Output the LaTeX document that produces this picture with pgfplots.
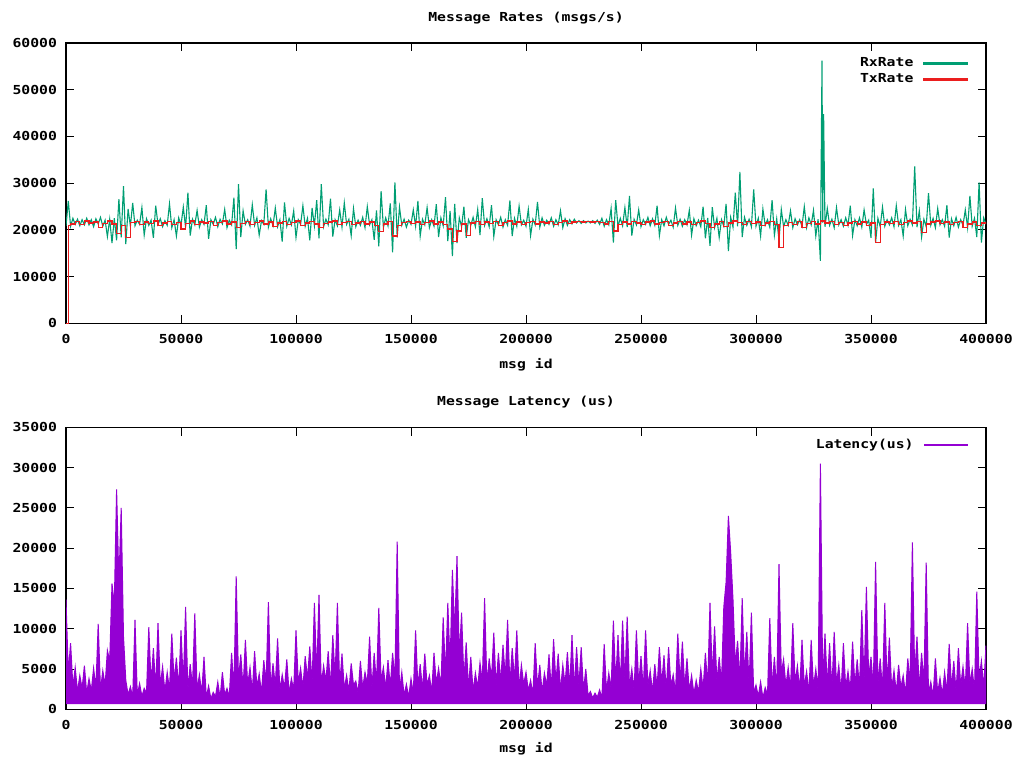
\documentclass[border=0pt]{standalone}
\usepackage{fontspec}
\setmainfont{DejaVu Sans Mono}[FakeStretch=1.19]
\usepackage{pgfplots}
\pgfplotsset{compat=1.18}
\definecolor{gpgreen}{HTML}{009E73}
\definecolor{gpred}{HTML}{EB1E1E}
\definecolor{gppurple}{HTML}{9400D3}
\newcommand\gpfont{\fontsize{6.2}{7}\selectfont\bfseries}
\pgfplotsset{gp/.style={
  scale only axis, width=460pt,
  xmin=0, xmax=400000,
  xtick={0,50000,100000,150000,200000,250000,300000,350000,400000},
  scaled x ticks=false, scaled y ticks=false,
  /pgf/number format/fixed, /pgf/number format/1000 sep={},
  /pgf/number format/assume math mode=true,
  tick align=inside, tick pos=both, major tick length=4.2pt,
  axis line style={line width=0.6pt},
  every tick/.style={black, line width=0.5pt},
  tick label style={font=\gpfont},
  xticklabel style={yshift=-2pt},
  yticklabel style={xshift=-1pt},
  legend style={draw=none, fill=none, at={(1,1)}, anchor=north east,
    xshift=-9pt, font=\gpfont, row sep=-2pt, inner sep=0pt},
  legend cell align=right, legend plot pos=right,
}}
\begin{document}
\begin{tikzpicture}[x=0.5pt,y=0.5pt]
\useasboundingbox (0,0) rectangle (1019,763);
\begin{axis}[gp, at={(33pt,219.75pt)}, anchor=south west, height=140.25pt,
  legend style={yshift=-5pt},
  ymin=0, ymax=60000, ytick={0,10000,20000,30000,40000,50000,60000}]
\addplot[draw=gpgreen, line width=0.55pt,
  legend image code/.code={\path (0pt,0pt); \fill[gpgreen] (3pt,-0.3pt) rectangle (24.5pt,0.3pt);}] coordinates {
(0,20900)(1000,26200)(2000,20800)(3000,22500)(4000,21200)(5000,22300)(6000,20900)(7000,22200)(8000,21100)(9000,22500)
(10000,21100)(11000,22200)(12000,20700)(13000,22400)(14000,21300)(15000,22700)(16000,20800)(17000,22100)(18000,18600)(19000,22300)
(20000,17200)(21000,22500)(22000,17800)(23000,26600)(24000,18400)(25000,29400)(26000,17000)(27000,24500)(28000,20800)(29000,25800)
(30000,20900)(31000,22100)(32000,21200)(33000,24800)(34000,18900)(35000,22400)(36000,21000)(37000,22100)(38000,18300)(39000,25200)
(40000,21200)(41000,22400)(42000,20700)(43000,22000)(44000,21000)(45000,25600)(46000,20500)(47000,22200)(48000,18700)(49000,22600)
(50000,21000)(51000,24900)(52000,20500)(53000,28000)(54000,18800)(55000,22300)(56000,21100)(57000,24200)(58000,20600)(59000,22200)
(60000,21200)(61000,25300)(62000,18100)(63000,22200)(64000,21200)(65000,22700)(66000,20700)(67000,22300)(68000,21300)(69000,24400)
(70000,20500)(71000,22100)(72000,21100)(73000,26900)(74000,15900)(75000,29800)(76000,18500)(77000,24100)(78000,21200)(79000,22200)
(80000,20800)(81000,25400)(82000,21000)(83000,22600)(84000,18900)(85000,22000)(86000,21200)(87000,28700)(88000,20600)(89000,22400)
(90000,20900)(91000,24700)(92000,20700)(93000,22200)(94000,17500)(95000,25900)(96000,20800)(97000,22500)(98000,21100)(99000,24100)
(100000,18400)(101000,22200)(102000,21200)(103000,25200)(104000,20800)(105000,22500)(106000,17800)(107000,24700)(108000,20900)(109000,26400)
(110000,18200)(111000,29800)(112000,20700)(113000,22300)(114000,21100)(115000,26700)(116000,18600)(117000,22200)(118000,20900)(119000,24300)
(120000,20600)(121000,25800)(122000,21200)(123000,22300)(124000,18800)(125000,24600)(126000,20700)(127000,22100)(128000,21000)(129000,22700)
(130000,20500)(131000,25000)(132000,21100)(133000,22200)(134000,17900)(135000,24200)(136000,16500)(137000,28300)(138000,20500)(139000,22600)
(140000,20900)(141000,25700)(142000,15200)(143000,30200)(144000,18400)(145000,24900)(146000,21000)(147000,22300)(148000,20600)(149000,22100)
(150000,21200)(151000,24300)(152000,20800)(153000,26200)(154000,18700)(155000,22300)(156000,21100)(157000,24800)(158000,20500)(159000,22200)
(160000,20800)(161000,25500)(162000,18500)(163000,22600)(164000,20900)(165000,27000)(166000,17600)(167000,24100)(168000,14400)(169000,25600)
(170000,17200)(171000,22600)(172000,20700)(173000,25000)(174000,18300)(175000,22200)(176000,21000)(177000,22700)(178000,20700)(179000,24400)
(180000,18900)(181000,26800)(182000,21000)(183000,22400)(184000,20700)(185000,25300)(186000,18600)(187000,22200)(188000,21100)(189000,22700)
(190000,20600)(191000,22200)(192000,21000)(193000,26300)(194000,18700)(195000,22500)(196000,20800)(197000,25100)(198000,21100)(199000,22100)
(200000,20800)(201000,24400)(202000,18800)(203000,22300)(204000,21100)(205000,26000)(206000,20600)(207000,22600)(208000,21000)(209000,22100)
(210000,21200)(211000,22600)(212000,20800)(213000,22200)(214000,21100)(215000,24100)(216000,20500)(217000,22400)(218000,21000)(219000,22200)
(220000,21300)(221000,22300)(222000,21500)(223000,22000)(224000,21400)(225000,22000)(226000,21500)(227000,21900)(228000,21500)(229000,22000)
(230000,21400)(231000,22100)(232000,21200)(233000,22500)(234000,20800)(235000,22200)(236000,21100)(237000,24600)(238000,17300)(239000,26400)
(240000,20800)(241000,22500)(242000,20900)(243000,24800)(244000,20600)(245000,27300)(246000,18800)(247000,22300)(248000,21100)(249000,24300)
(250000,20700)(251000,22200)(252000,21200)(253000,22700)(254000,20900)(255000,22400)(256000,21000)(257000,25200)(258000,18800)(259000,22200)
(260000,20900)(261000,22700)(262000,21200)(263000,22100)(264000,20600)(265000,24700)(266000,21000)(267000,22300)(268000,20800)(269000,22200)
(270000,21100)(271000,24200)(272000,18900)(273000,22400)(274000,20900)(275000,22100)(276000,20700)(277000,25000)(278000,18200)(279000,22600)
(280000,16600)(281000,24900)(282000,20500)(283000,22500)(284000,18400)(285000,22200)(286000,20800)(287000,25600)(288000,15500)(289000,22700)
(290000,20600)(291000,28000)(292000,20800)(293000,32400)(294000,18500)(295000,22700)(296000,21000)(297000,22300)(298000,20700)(299000,28700)
(300000,20800)(301000,22500)(302000,18700)(303000,24500)(304000,21000)(305000,22200)(306000,20600)(307000,26400)(308000,18900)(309000,22400)
(310000,17800)(311000,24400)(312000,20700)(313000,22200)(314000,21000)(315000,24100)(316000,20500)(317000,22400)(318000,21100)(319000,22200)
(320000,20800)(321000,25000)(322000,20500)(323000,22600)(324000,21100)(325000,24200)(326000,18700)(327000,22300)(328000,13400)(328700,56200)
(329000,21600)(329400,44800)(330000,20700)(331000,24600)(332000,21000)(333000,22300)(334000,20500)(335000,24800)(336000,21100)(337000,22200)(338000,20800)(339000,22600)
(340000,21000)(341000,25200)(342000,18800)(343000,22200)(344000,20900)(345000,22600)(346000,20600)(347000,24300)(348000,21200)(349000,22100)
(350000,18300)(351000,28900)(352000,17300)(353000,22500)(354000,20700)(355000,24900)(356000,20800)(357000,22200)(358000,21100)(359000,22600)
(360000,20700)(361000,25200)(362000,21000)(363000,22200)(364000,18700)(365000,24400)(366000,20900)(367000,22300)(368000,21100)(369000,33600)
(370000,20600)(371000,24100)(372000,18500)(373000,22300)(374000,20700)(375000,27900)(376000,21000)(377000,22500)(378000,20500)(379000,24600)
(380000,21100)(381000,22200)(382000,20800)(383000,25300)(384000,18400)(385000,22400)(386000,20900)(387000,22700)(388000,20600)(389000,22200)
(390000,21000)(391000,24300)(392000,20500)(393000,27300)(394000,20800)(395000,22500)(396000,18500)(397000,30200)(398000,17300)(399000,22600)
(400000,21200)};
\addlegendentry{RxRate}
\addplot[draw=gpred, line width=0.6pt, const plot,
  legend image code/.code={\path (0pt,0pt); \fill[gpred] (3pt,-0.3pt) rectangle (24.5pt,0.3pt);}] coordinates {
(0,0)(600,0)(1000,21000)(2000,21300)(4000,21800)(6000,21200)(8000,21900)(10000,21500)(12000,21700)(14000,20600)(16000,21400)(18000,21900)
(20000,21300)(22000,19200)(24000,21000)(26000,18400)(28000,21600)(30000,21800)(32000,21200)(34000,21700)(36000,21400)(38000,21900)
(40000,20900)(42000,21500)(44000,21800)(46000,21100)(48000,21600)(50000,20200)(52000,21400)(54000,21900)(56000,21200)(58000,21700)
(60000,21500)(62000,21800)(64000,21000)(66000,21600)(68000,21900)(70000,21300)(72000,21700)(74000,20500)(76000,21400)(78000,21800)
(80000,21100)(82000,21600)(84000,21900)(86000,21300)(88000,21700)(90000,20700)(92000,21500)(94000,21800)(96000,21200)(98000,21600)
(100000,21900)(102000,21000)(104000,21500)(106000,21800)(108000,21300)(110000,20600)(112000,21400)(114000,21700)(116000,21900)(118000,21200)
(120000,21600)(122000,21800)(124000,21100)(126000,21500)(128000,21800)(130000,21300)(132000,21700)(134000,20900)(136000,19700)(138000,21300)
(140000,21800)(142000,18700)(144000,21000)(146000,21600)(148000,21800)(150000,21400)(152000,21700)(154000,21100)(156000,21600)(158000,21900)
(160000,21300)(162000,21700)(164000,21200)(166000,20200)(168000,17600)(170000,19800)(172000,21300)(174000,18900)(176000,21500)(178000,21800)
(180000,21200)(182000,21700)(184000,21400)(186000,21800)(188000,21000)(190000,21600)(192000,21900)(194000,21300)(196000,21700)(198000,21100)
(200000,21600)(202000,21800)(204000,21300)(206000,21700)(208000,21500)(210000,21800)(212000,21200)(214000,21600)(216000,21900)(218000,21400)
(220000,21700)(222000,21800)(224000,21700)(226000,21800)(228000,21700)(230000,21800)(232000,21600)(234000,21300)(236000,21800)(238000,19800)
(240000,21200)(242000,21700)(244000,21300)(246000,21800)(248000,21500)(250000,21100)(252000,21700)(254000,21900)(256000,21300)(258000,21600)
(260000,21800)(262000,21000)(264000,21500)(266000,21800)(268000,21300)(270000,21700)(272000,21100)(274000,21600)(276000,21900)(278000,21400)
(280000,20500)(282000,21300)(284000,21800)(286000,20800)(288000,21500)(290000,21900)(292000,21600)(294000,21200)(296000,21800)(298000,21400)
(300000,21700)(302000,21000)(304000,21500)(306000,21800)(308000,21200)(310000,16300)(312000,21000)(314000,21600)(316000,21200)(318000,21800)
(320000,20600)(322000,21400)(324000,21800)(326000,21300)(328000,21900)(330000,21500)(332000,21800)(334000,21200)(336000,21600)(338000,20900)
(340000,21500)(342000,21800)(344000,21300)(346000,21700)(348000,21000)(350000,21500)(352000,17300)(354000,21100)(356000,21700)(358000,21400)
(360000,21800)(362000,21200)(364000,21600)(366000,21900)(368000,21500)(370000,21800)(372000,19500)(374000,21300)(376000,21700)(378000,21900)
(380000,21400)(382000,21700)(384000,21200)(386000,21600)(388000,21800)(390000,20600)(392000,21300)(394000,21700)(396000,20900)(398000,21500)
(400000,21800)};
\addlegendentry{TxRate}
\end{axis}
\node[font=\gpfont] at (526,745) {Message Rates (msgs/s)};
\node[font=\gpfont] at (526,398) {msg id};
\begin{axis}[gp, at={(33pt,26.85pt)}, anchor=south west, height=141pt,
  legend style={yshift=-3.5pt},
  ymin=0, ymax=35000, ytick={0,5000,10000,15000,20000,25000,30000,35000}]
\addplot[draw=gppurple, fill=gppurple, line width=0.5pt,
  legend image code/.code={\path (0pt,0pt); \fill[gppurple] (3pt,-0.3pt) rectangle (24.5pt,0.3pt);}] coordinates {
(0,700)(0,13600)(1000,4500)(2000,8200)(3000,2800)(4000,5200)(5000,2200)(6000,4200)(7000,2600)(8000,5400)(9000,2000)
(10000,3800)(11000,2300)(12000,5100)(13000,2700)(14000,10600)(15000,2400)(16000,4800)(17000,3000)(18000,7300)(19000,6000)
(20000,15600)(21000,13000)(22000,27300)(23000,15700)(24000,25000)(25000,9000)(26000,3600)(27000,1800)(28000,2800)(29000,1500)
(30000,11100)(31000,1700)(32000,3200)(33000,1600)(34000,2600)(35000,2000)(36000,10200)(37000,3200)(38000,7600)(39000,2500)
(40000,10700)(41000,3000)(42000,5300)(43000,2200)(44000,4600)(45000,2400)(46000,9400)(47000,3500)(48000,6400)(49000,2600)
(50000,9800)(51000,3200)(52000,12700)(53000,2300)(54000,5600)(55000,2800)(56000,11900)(57000,2400)(58000,4300)(59000,2000)
(60000,6500)(61000,1500)(62000,2900)(63000,1300)(64000,2100)(65000,1600)(66000,3400)(67000,1400)(68000,4600)(69000,1800)
(70000,2600)(71000,1600)(72000,7000)(73000,2500)(74000,16500)(75000,3800)(76000,6800)(77000,2600)(78000,8600)(79000,3000)
(80000,5200)(81000,2200)(82000,7200)(83000,2800)(84000,4400)(85000,2000)(86000,6100)(87000,3200)(88000,13300)(89000,2500)
(90000,5700)(91000,2900)(92000,8800)(93000,2300)(94000,4300)(95000,2600)(96000,6200)(97000,2000)(98000,3800)(99000,2400)
(100000,9800)(101000,3300)(102000,5100)(103000,2600)(104000,6600)(105000,3800)(106000,7800)(107000,3200)(108000,13200)(109000,4200)
(110000,14200)(111000,3000)(112000,5400)(113000,3500)(114000,7200)(115000,2700)(116000,9200)(117000,3900)(118000,13200)(119000,2900)
(120000,6900)(121000,2500)(122000,4200)(123000,2200)(124000,5700)(125000,3000)(126000,3500)(127000,2000)(128000,6000)(129000,2600)
(130000,4600)(131000,3200)(132000,9000)(133000,2500)(134000,7000)(135000,3000)(136000,12600)(137000,3500)(138000,5200)(139000,2600)
(140000,6100)(141000,2800)(142000,7000)(143000,3600)(144000,20800)(145000,2200)(146000,4600)(147000,1700)(148000,3100)(149000,1500)
(150000,3800)(151000,2000)(152000,9800)(153000,2800)(154000,5600)(155000,2400)(156000,6900)(157000,3000)(158000,4200)(159000,2100)
(160000,7000)(161000,3200)(162000,5100)(163000,2800)(164000,11400)(165000,4200)(166000,13200)(167000,5500)(168000,17300)(169000,9500)
(170000,19000)(171000,6500)(172000,12000)(173000,3600)(174000,8300)(175000,2600)(176000,6500)(177000,2200)(178000,4500)(179000,2700)
(180000,5800)(181000,3400)(182000,13800)(183000,3000)(184000,6300)(185000,3800)(186000,9500)(187000,2800)(188000,7000)(189000,3400)
(190000,8000)(191000,4000)(192000,11100)(193000,3000)(194000,7600)(195000,3600)(196000,9800)(197000,2600)(198000,5500)(199000,3100)
(200000,4600)(201000,2300)(202000,3600)(203000,1800)(204000,8200)(205000,2700)(206000,5500)(207000,2100)(208000,4500)(209000,2900)
(210000,6800)(211000,2500)(212000,8700)(213000,3300)(214000,6900)(215000,2300)(216000,5500)(217000,3100)(218000,7100)(219000,2700)
(220000,9200)(221000,2500)(222000,7700)(223000,2900)(224000,7700)(225000,2300)(226000,5000)(227000,1700)(228000,2200)(229000,1400)
(230000,2000)(231000,1500)(232000,2400)(233000,1400)(234000,8100)(235000,2200)(236000,4500)(237000,2500)(238000,11000)(239000,3300)
(240000,9200)(241000,3000)(242000,11000)(243000,3600)(244000,11500)(245000,2800)(246000,5000)(247000,2300)(248000,9800)(249000,3100)
(250000,6600)(251000,2500)(252000,9800)(253000,2900)(254000,4800)(255000,2100)(256000,5600)(257000,2700)(258000,7700)(259000,3100)
(260000,6700)(261000,2300)(262000,7700)(263000,2900)(264000,4300)(265000,2100)(266000,9400)(267000,3300)(268000,8400)(269000,2700)
(270000,6300)(271000,2300)(272000,4200)(273000,1900)(274000,3600)(275000,2100)(276000,5000)(277000,2500)(278000,7000)(279000,2900)
(280000,13200)(281000,4000)(282000,10300)(283000,3400)(284000,6500)(285000,3200)(286000,12700)(287000,15800)(288000,24000)(289000,19400)
(290000,13600)(291000,5500)(292000,8500)(293000,3400)(294000,13800)(295000,4000)(296000,9600)(297000,2900)(298000,12000)(299000,2000)
(300000,3000)(301000,1600)(302000,3400)(303000,1400)(304000,2700)(305000,1800)(306000,11300)(307000,2700)(308000,6500)(309000,2300)
(310000,18000)(311000,4500)(312000,6200)(313000,2900)(314000,5200)(315000,2500)(316000,10700)(317000,3300)(318000,5400)(319000,2300)
(320000,8600)(321000,2900)(322000,4700)(323000,2100)(324000,8600)(325000,2700)(326000,5000)(327000,2300)(328000,30500)(329000,3600)
(330000,9400)(331000,2900)(332000,8200)(333000,2500)(334000,9600)(335000,3100)(336000,5500)(337000,2100)(338000,8200)(339000,2700)
(340000,4700)(341000,2300)(342000,8400)(343000,2900)(344000,6200)(345000,2500)(346000,12300)(347000,3300)(348000,15200)(349000,4000)
(350000,6500)(351000,2700)(352000,18300)(353000,3100)(354000,6300)(355000,2300)(356000,13200)(357000,2900)(358000,8900)(359000,2500)
(360000,4800)(361000,2100)(362000,5500)(363000,2700)(364000,4200)(365000,1900)(366000,6300)(367000,3300)(368000,20700)(369000,4200)
(370000,9000)(371000,2500)(372000,7000)(373000,3100)(374000,18200)(375000,2000)(376000,3400)(377000,1600)(378000,6300)(379000,2000)
(380000,3900)(381000,1800)(382000,4600)(383000,2200)(384000,8100)(385000,2700)(386000,6000)(387000,2100)(388000,7600)(389000,2900)
(390000,5300)(391000,2500)(392000,10700)(393000,3100)(394000,5000)(395000,2300)(396000,14600)(397000,3700)(398000,6000)(399000,2700)
(400000,7900)(400000,700)} -- cycle;
\addlegendentry{Latency(us)}
\end{axis}
\node[font=\gpfont] at (526,361) {Message Latency (us)};
\node[font=\gpfont] at (526,14) {msg id};
\end{tikzpicture}
\end{document}
